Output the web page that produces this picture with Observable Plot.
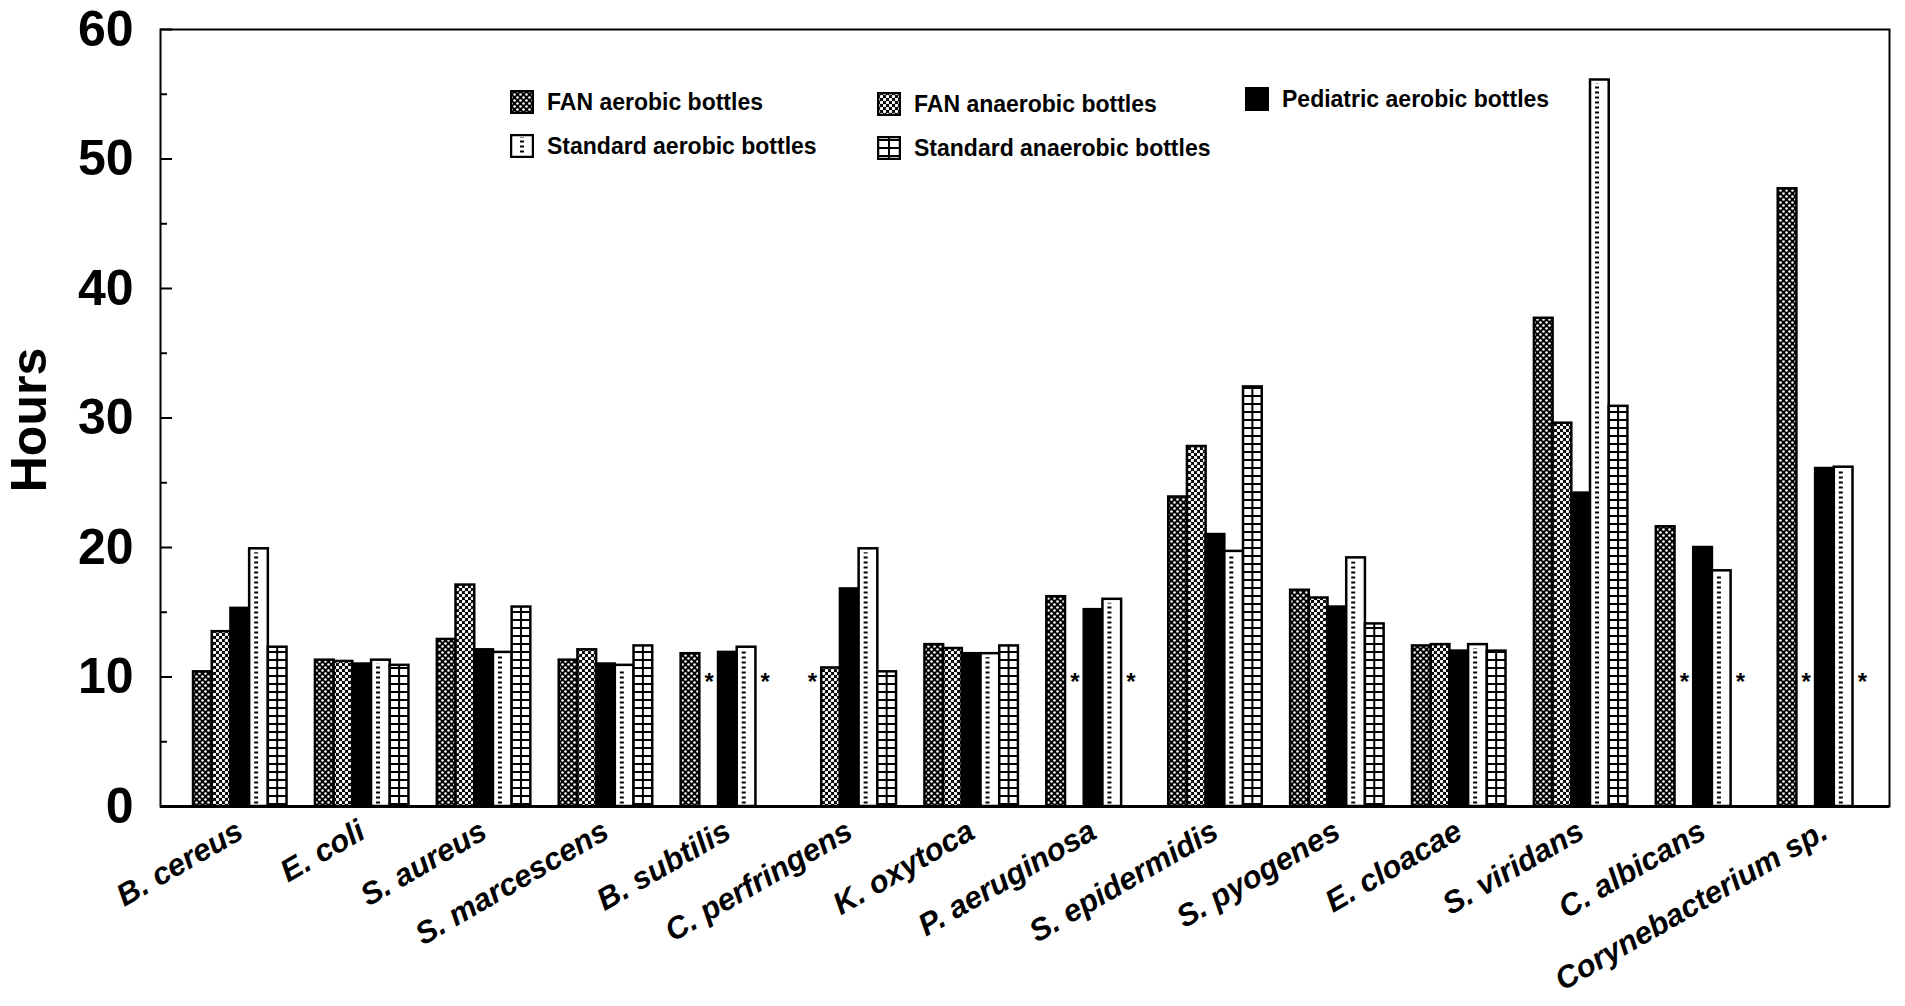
<!DOCTYPE html>
<html><head><meta charset="utf-8">
<script src="https://cdn.jsdelivr.net/npm/d3@7"></script>
<script src="https://cdn.jsdelivr.net/npm/@observablehq/plot@0.6"></script>
<style>
html,body{margin:0;padding:0;background:#fff;}
#wrap{position:relative;width:1905px;height:1006px;overflow:hidden;}
.leg{position:absolute;font:bold 23px "Liberation Sans",Arial,sans-serif;color:#000;display:flex;align-items:center;white-space:nowrap;line-height:1;}
.leg svg{margin-right:13px;flex:none;}
.ylab{position:absolute;left:29px;top:420px;transform:translate(-50%,-50%) rotate(-90deg);font:bold 50px "Liberation Sans",Arial,sans-serif;color:#000;white-space:nowrap;line-height:1;}
</style></head><body><div id="wrap"></div>
<script>
// ---- data ----
const categories = ["B. cereus","E. coli","S. aureus","S. marcescens","B. subtilis","C. perfringens","K. oxytoca","P. aeruginosa","S. epidermidis","S. pyogenes","E. cloacae","S. viridans","C. albicans","Corynebacterium sp."];
const seriesNames = ["FAN aerobic bottles","FAN anaerobic bottles","Pediatric aerobic bottles","Standard aerobic bottles","Standard anaerobic bottles"];
const fanAerobic        = [10.4, 11.3, 12.9, 11.3, 11.8, null, 12.5, 16.2, 23.9, 16.7, 12.4, 37.7, 21.6, 47.7];
const fanAnaerobic      = [13.5, 11.2, 17.1, 12.1, null, 10.7, 12.2, null, 27.8, 16.1, 12.5, 29.6, null, null];
const pediatricAerobic  = [15.3, 11.0, 12.1, 11.0, 11.9, 16.8, 11.8, 15.2, 21.0, 15.4, 12.0, 24.2, 20.0, 26.1];
const standardAerobic   = [19.9, 11.3, 11.9, 10.9, 12.3, 19.9, 11.8, 16.0, 19.7, 19.2, 12.5, 56.1, 18.2, 26.2];
const standardAnaerobic = [12.3, 10.9, 15.4, 12.4, null, 10.4, 12.4, null, 32.4, 14.1, 12.0, 30.9, null, null];
const yTicks = [0, 10, 20, 30, 40, 50, 60];
const yMinorTicks = [5, 15, 25, 35, 45, 55];
const yLabel = "Hours";
const missingMark = "*";
const missingMarkY = 9.6;

// ---- layout ----
const W = 1905, H = 1006;
const mL = 160, mR = 16, mT = 29, mB = 200;
const padIn = 0.233, padOut = 0.2085, align = 0.65;
const band = d3.scaleBand(categories, [mL, W - mR]).paddingInner(padIn).paddingOuter(padOut).align(align);
const B = band.bandwidth();
const bw = B / 5;
const plotW = W - mL - mR;

const fills = ["url(#pFanAer)", "url(#pFanAna)", "#000", "#fff", "url(#pHLines)"];
const valuesBySeries = [fanAerobic, fanAnaerobic, pediatricAerobic, standardAerobic, standardAnaerobic];

const marks = [];
valuesBySeries.forEach((vals, j) => {
  const all = categories.map((c, i) => ({cat: c, v: vals[i]}));
  const rows = all.filter(d => d.v != null);
  const miss = all.filter(d => d.v == null);
  const il = j * bw, ir = (4 - j) * bw;
  marks.push(Plot.barY(rows, {x: "cat", y: "v", insetLeft: il, insetRight: ir, fill: fills[j], stroke: "#000", strokeWidth: 2.5}));
  if (j === 3) {
    marks.push(Plot.barY(rows, {x: "cat", y: "v", insetLeft: il + 5, insetRight: B - (il + 9), insetTop: 4, insetBottom: 2, fill: "url(#pDash)"}));
  }
  if (j === 4) {
    marks.push(Plot.barY(rows, {x: "cat", y: "v", insetLeft: il + bw / 2 - 1, insetRight: ir + bw / 2 - 1, fill: "#000"}));
  }
  marks.push(Plot.text(miss, {x: "cat", y: () => missingMarkY, dx: il + bw / 2 - B / 2, text: () => missingMark, fontSize: 24, fontWeight: "bold", fill: "#000"}));
});

const chart = Plot.plot({
  width: W, height: H,
  marginLeft: mL, marginRight: mR, marginTop: mT, marginBottom: mB,
  style: {fontFamily: "'Liberation Sans', Arial, sans-serif", color: "#000", background: "#fff"},
  x: {type: "band", domain: categories, paddingInner: padIn, paddingOuter: padOut, align: align, round: false, label: null},
  y: {domain: [0, 60], label: null},
  marks: [
    ...marks,
    Plot.tickY(yTicks, {y: d => d, insetRight: plotW - 12, stroke: "#000", strokeWidth: 2}),
    Plot.tickY(yMinorTicks, {y: d => d, insetRight: plotW - 7, stroke: "#000", strokeWidth: 2}),
    Plot.frame({stroke: "#000", strokeWidth: 2}),
    Plot.ruleY([0], {stroke: "#000", strokeWidth: 3}),
    Plot.axisY({ticks: yTicks, tickSize: 0, tickPadding: 27, fontSize: 50, fontWeight: "bold", label: null}),
    Plot.axisX({tickSize: 0, tickPadding: 22, tickRotate: -30, fontSize: 31, fontWeight: "bold", fontStyle: "italic", label: null})
  ]
});

const defs = `
<defs>
 <pattern id="pFanAer" patternUnits="userSpaceOnUse" width="6" height="6"><rect width="6" height="6" fill="#000"/><circle cx="1.5" cy="1.5" r="1.3" fill="#fff"/><circle cx="4.5" cy="4.5" r="1.3" fill="#fff"/></pattern>
 <pattern id="pFanAna" patternUnits="userSpaceOnUse" width="6" height="6"><rect width="6" height="6" fill="#000"/><circle cx="1.5" cy="1.5" r="1.7" fill="#fff"/><circle cx="4.5" cy="4.5" r="1.7" fill="#fff"/></pattern>
 <pattern id="pDash" patternUnits="userSpaceOnUse" width="4" height="5"><rect width="4" height="5" fill="#fff"/><rect y="1.5" width="4" height="2" fill="#000"/></pattern>
 <pattern id="pHLines" patternUnits="userSpaceOnUse" width="4" height="8"><rect width="4" height="8" fill="#fff"/><rect y="3" width="4" height="2" fill="#000"/></pattern>
</defs>`;
const svgEl = chart.tagName.toLowerCase() === "svg" ? chart : chart.querySelector("svg");
svgEl.insertAdjacentHTML("afterbegin", defs);

const wrap = document.getElementById("wrap");
wrap.appendChild(chart);

// y-axis title
const yl = document.createElement("div");
yl.className = "ylab";
yl.textContent = yLabel;
wrap.appendChild(yl);

// ---- legend (HTML overlay) ----
function swatch(j) {
  const s = 24;
  let inner = "";
  if (j === 3) inner = `<rect x="1" y="1" width="22" height="22" fill="#fff" stroke="#000" stroke-width="2.5"/><rect x="10" y="3" width="4" height="18" fill="url(#pDash)"/>`;
  else if (j === 4) inner = `<rect x="1" y="1" width="22" height="22" fill="url(#pHLines)" stroke="#000" stroke-width="2.5"/><rect x="11" y="1" width="2" height="22" fill="#000"/>`;
  else inner = `<rect x="1" y="1" width="22" height="22" fill="${fills[j]}" stroke="#000" stroke-width="2.5"/>`;
  return `<svg width="${s}" height="${s}" viewBox="0 0 24 24">${inner}</svg>`;
}
const legendPos = [[510, 90], [877, 92], [1245, 87], [510, 134], [877, 136]];
seriesNames.forEach((name, j) => {
  const d = document.createElement("div");
  d.className = "leg";
  d.style.left = legendPos[j][0] + "px";
  d.style.top = legendPos[j][1] + "px";
  d.innerHTML = swatch(j) + `<span>${name}</span>`;
  wrap.appendChild(d);
});
</script></body></html>
